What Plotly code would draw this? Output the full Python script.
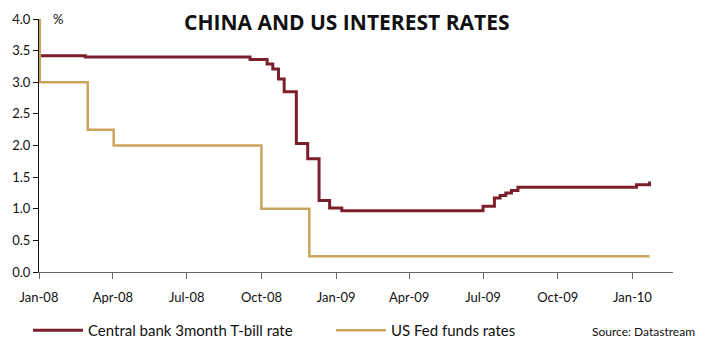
import plotly.graph_objects as go

# China: central bank 3-month T-bill rate (%), step changes
china_dates = [
    "2008-01-01", "2008-02-27", "2008-09-17", "2008-10-08", "2008-10-15",
    "2008-10-22", "2008-10-29", "2008-11-13", "2008-11-27", "2008-12-11",
    "2008-12-24", "2009-01-08", "2009-07-01", "2009-07-15", "2009-07-22",
    "2009-07-29", "2009-08-05", "2009-08-13", "2010-01-06", "2010-01-20",
    "2010-01-22",
]
china_rate = [
    3.42, 3.40, 3.36, 3.29, 3.21,
    3.05, 2.85, 2.03, 1.79, 1.13,
    1.01, 0.97, 1.04, 1.17, 1.21,
    1.25, 1.29, 1.34, 1.38, 1.38,
    1.43,
]

# US: Fed funds rate (%), step changes
us_dates = [
    "2008-01-01", "2008-01-02", "2008-03-01", "2008-04-02", "2008-10-01",
    "2008-11-29", "2010-01-22",
]
us_rate = [4.00, 3.00, 2.25, 2.00, 1.00, 0.25, 0.25]

tick_dates = ["2008-01-01", "2008-04-01", "2008-07-01", "2008-10-01",
              "2009-01-01", "2009-04-01", "2009-07-01", "2009-10-01",
              "2010-01-01"]
tick_labels = ["Jan-08", "Apr-08", "Jul-08", "Oct-08", "Jan-09",
               "Apr-09", "Jul-09", "Oct-09", "Jan-10"]
y_ticks = [0.0, 0.5, 1.0, 1.5, 2.0, 2.5, 3.0, 3.5, 4.0]

RED = "#7b1f2c"
GOLD = "#c9a45c"
FONT = "Lato, 'Open Sans', sans-serif"

fig = go.Figure()
fig.add_trace(go.Scatter(
    x=china_dates, y=china_rate, mode="lines", line_shape="hv",
    line=dict(color=RED, width=3), name="Central bank 3month T-bill rate",
))
fig.add_trace(go.Scatter(
    x=us_dates, y=us_rate, mode="lines", line_shape="hv",
    line=dict(color=GOLD, width=2.5), name="US Fed funds rates",
))

fig.update_layout(
    width=710, height=338,
    margin=dict(l=39, r=37, t=19, b=66, autoexpand=False),
    paper_bgcolor="white", plot_bgcolor="white",
    font=dict(family=FONT, size=13, color="#111"),
    showlegend=True,
    legend=dict(
        orientation="h", xref="container", yref="container",
        x=28 / 710, xanchor="left", y=1 - 314 / 338, yanchor="top",
        entrywidth=238, entrywidthmode="pixels",
        font=dict(size=15, color="#111"), itemwidth=50,
        bgcolor="rgba(0,0,0,0)", tracegroupgap=0,
    ),
    xaxis=dict(
        type="date", range=["2008-01-01", "2010-02-20"],
        tickvals=tick_dates, ticktext=tick_labels,
        showgrid=False, zeroline=False,
        showline=True, linecolor="#666", linewidth=1,
        ticks="outside", ticklen=6, tickcolor="#666",
        tickfont=dict(size=13), ticklabelstandoff=7,
    ),
    yaxis=dict(
        range=[0, 4], tickvals=y_ticks,
        ticktext=[f"{v:.1f}" for v in y_ticks],
        showgrid=False, zeroline=False,
        showline=True, linecolor="#111", linewidth=1,
        ticks="outside", ticklen=5, tickcolor="#111",
        tickfont=dict(size=13),
    ),
    annotations=[
        dict(text="<b>CHINA AND US INTEREST RATES</b>", xref="paper", yref="paper",
             x=(346 - 39) / 634, y=1.0, xanchor="center", yanchor="middle", yshift=-3,
             showarrow=False,
             font=dict(size=21, color="#111", family="'Open Sans', Lato, sans-serif")),
        dict(text="%", xref="paper", yref="paper", x=(58 - 39) / 634, y=1.0,
             xanchor="center", yanchor="bottom", yshift=-10, showarrow=False,
             font=dict(size=13)),
        dict(text="Source: Datastream", xref="paper", yref="paper",
             x=(697 - 39) / 634, y=0, xanchor="right", yanchor="top", yshift=-50,
             showarrow=False, font=dict(size=12)),
    ],
)

fig.write_html("out.html")
